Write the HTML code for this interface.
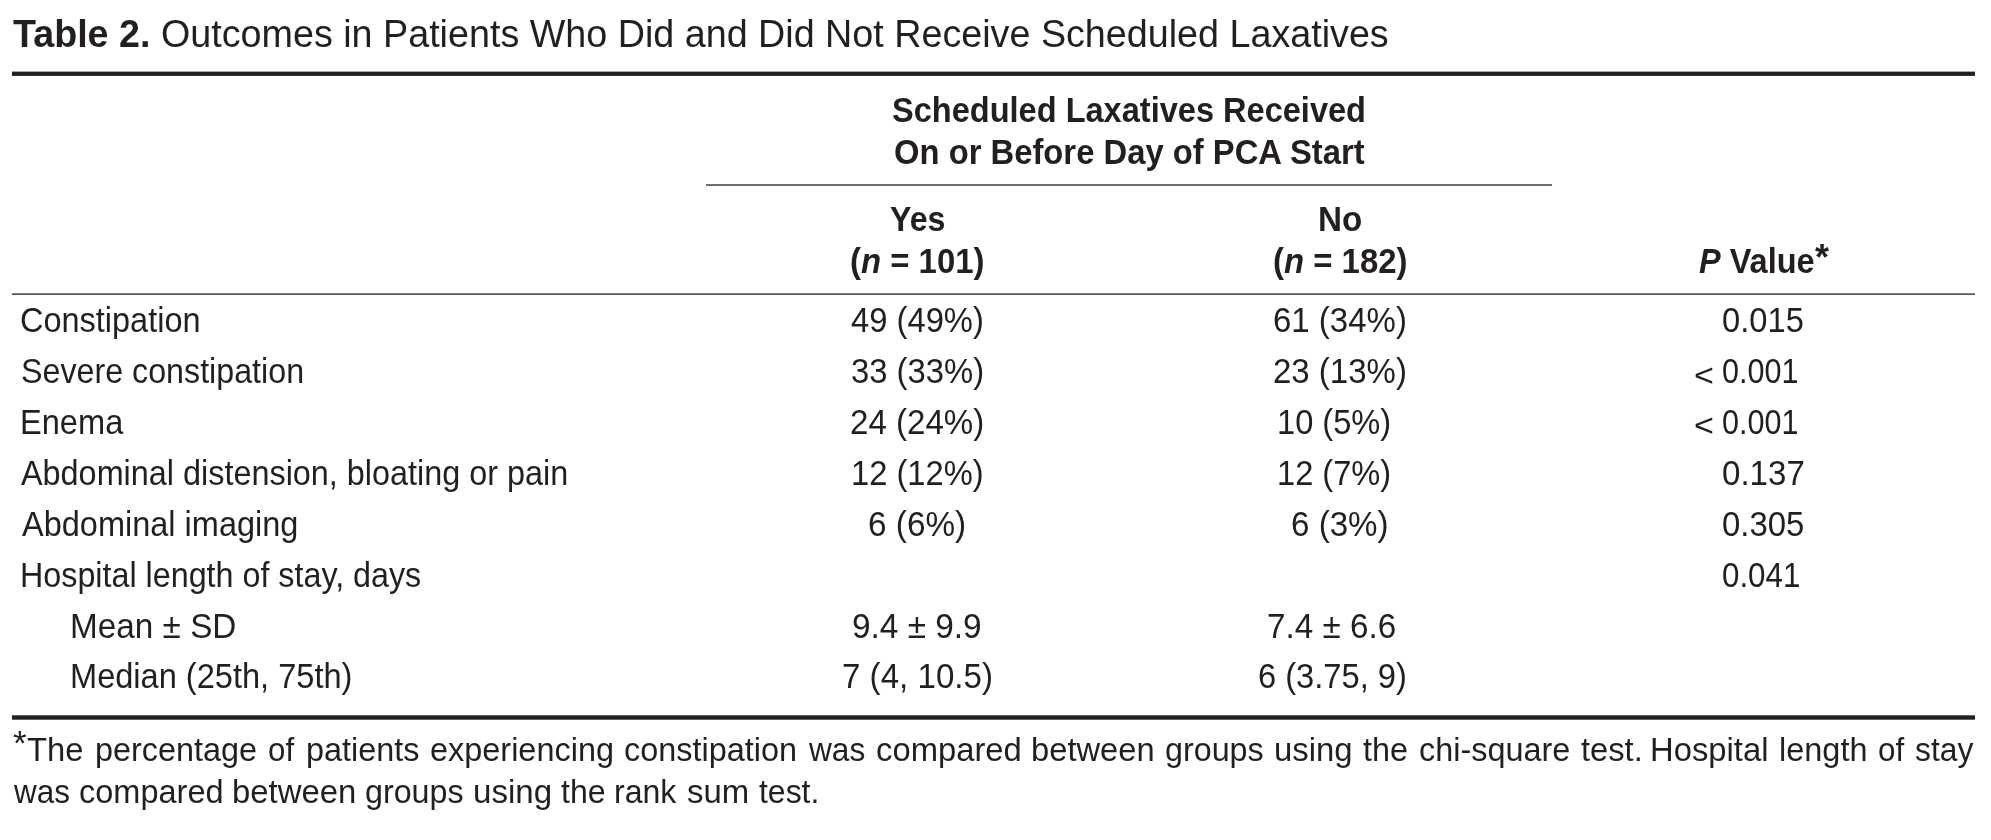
<!DOCTYPE html>
<html><head><meta charset="utf-8"><title>Table 2</title>
<style>
html,body{margin:0;padding:0;background:#fff;}
.wrap{position:absolute;left:0;top:0;width:1991px;height:840px;will-change:transform;}
body{width:1991px;height:840px;position:relative;overflow:hidden;}
.t{position:absolute;white-space:nowrap;font-family:'Liberation Sans', sans-serif;color:#231f20;}
</style></head><body><div class="wrap">
<svg width="1991" height="840" style="position:absolute;left:0;top:0">
<rect x="12" y="71.6" width="1963" height="4.3" fill="#231f20"/>
<rect x="706" y="184.35" width="846" height="1.3" fill="#231f20"/>
<rect x="12" y="293.45" width="1963" height="1.3" fill="#231f20"/>
<rect x="12" y="715.3" width="1963" height="4.4" fill="#231f20"/>
</svg>
<div class="t" style="left:12.50px;top:14.80px;font-size:38.0px;line-height:38.0px;font-weight:bold;transform-origin:0 31px;transform:scale(0.9911,1.0000)">Table 2.</div>
<div class="t" style="left:160.56px;top:14.80px;font-size:38.0px;line-height:38.0px;transform-origin:0 31px;transform:scale(0.9919,1.0000)">Outcomes in Patients Who Did and Did Not Receive Scheduled Laxatives</div>
<div class="t" style="left:892.03px;top:94.20px;font-size:33.5px;line-height:33.5px;font-weight:bold;transform-origin:0 27px;transform:scale(0.9716,1.0300)">Scheduled Laxatives Received</div>
<div class="t" style="left:893.78px;top:136.00px;font-size:33.5px;line-height:33.5px;font-weight:bold;transform-origin:0 27px;transform:scale(0.9786,1.0300)">On or Before Day of PCA Start</div>
<div class="t" style="left:889.78px;top:203.40px;font-size:33.5px;line-height:33.5px;font-weight:bold;transform-origin:0 27px;transform:scale(0.9596,1.0300)">Yes</div>
<div class="t" style="left:850.28px;top:245.20px;font-size:33.5px;line-height:33.5px;font-weight:bold;transform-origin:0 27px;transform:scale(0.9828,1.0300)">(<i>n</i> = 101)</div>
<div class="t" style="left:1318.27px;top:203.40px;font-size:33.5px;line-height:33.5px;font-weight:bold;transform-origin:0 27px;transform:scale(0.9927,1.0300)">No</div>
<div class="t" style="left:1273.28px;top:245.20px;font-size:33.5px;line-height:33.5px;font-weight:bold;transform-origin:0 27px;transform:scale(0.9828,1.0300)">(<i>n</i> = 182)</div>
<div class="t" style="left:1698.71px;top:244.70px;font-size:33.5px;line-height:33.5px;font-weight:bold;transform-origin:0 27px;transform:scale(0.9702,1.0500)"><i>P</i> Value</div>
<div class="t" style="left:20.20px;top:304.20px;font-size:33.5px;line-height:33.5px;transform-origin:0 27px;transform:scale(0.9695,1.0500)">Constipation</div>
<div class="t" style="left:20.56px;top:355.10px;font-size:33.5px;line-height:33.5px;transform-origin:0 27px;transform:scale(0.9621,1.0500)">Severe constipation</div>
<div class="t" style="left:19.92px;top:405.90px;font-size:33.5px;line-height:33.5px;transform-origin:0 27px;transform:scale(0.9729,1.0500)">Enema</div>
<div class="t" style="left:21.00px;top:456.80px;font-size:33.5px;line-height:33.5px;transform-origin:0 27px;transform:scale(0.9667,1.0500)">Abdominal distension, bloating or pain</div>
<div class="t" style="left:21.90px;top:507.60px;font-size:33.5px;line-height:33.5px;transform-origin:0 27px;transform:scale(0.9701,1.0500)">Abdominal imaging</div>
<div class="t" style="left:20.35px;top:558.50px;font-size:33.5px;line-height:33.5px;transform-origin:0 27px;transform:scale(0.9634,1.0500)">Hospital length of stay, days</div>
<div class="t" style="left:69.77px;top:609.60px;font-size:33.5px;line-height:33.5px;transform-origin:0 27px;transform:scale(0.9945,1.0500)">Mean ± SD</div>
<div class="t" style="left:69.83px;top:660.10px;font-size:33.5px;line-height:33.5px;transform-origin:0 27px;transform:scale(0.9722,1.0500)">Median (25th, 75th)</div>
<div class="t" style="left:851.07px;top:304.20px;font-size:33.5px;line-height:33.5px;transform-origin:0 27px;transform:scale(0.9774,1.0500)">49 (49%)</div>
<div class="t" style="left:851.28px;top:355.10px;font-size:33.5px;line-height:33.5px;transform-origin:0 27px;transform:scale(0.9796,1.0500)">33 (33%)</div>
<div class="t" style="left:850.17px;top:405.90px;font-size:33.5px;line-height:33.5px;transform-origin:0 27px;transform:scale(0.9879,1.0500)">24 (24%)</div>
<div class="t" style="left:851.36px;top:456.80px;font-size:33.5px;line-height:33.5px;transform-origin:0 27px;transform:scale(0.9752,1.0500)">12 (12%)</div>
<div class="t" style="left:868.46px;top:507.60px;font-size:33.5px;line-height:33.5px;transform-origin:0 27px;transform:scale(0.9953,1.0500)">6 (6%)</div>
<div class="t" style="left:852.31px;top:609.60px;font-size:33.5px;line-height:33.5px;transform-origin:0 27px;transform:scale(0.9961,1.0500)">9.4 ± 9.9</div>
<div class="t" style="left:841.67px;top:660.10px;font-size:33.5px;line-height:33.5px;transform-origin:0 27px;transform:scale(0.9886,1.0500)">7 (4, 10.5)</div>
<div class="t" style="left:1273.08px;top:304.20px;font-size:33.5px;line-height:33.5px;transform-origin:0 27px;transform:scale(0.9848,1.0500)">61 (34%)</div>
<div class="t" style="left:1273.08px;top:355.10px;font-size:33.5px;line-height:33.5px;transform-origin:0 27px;transform:scale(0.9848,1.0500)">23 (13%)</div>
<div class="t" style="left:1277.07px;top:405.90px;font-size:33.5px;line-height:33.5px;transform-origin:0 27px;transform:scale(0.9738,1.0500)">10 (5%)</div>
<div class="t" style="left:1277.07px;top:456.80px;font-size:33.5px;line-height:33.5px;transform-origin:0 27px;transform:scale(0.9738,1.0500)">12 (7%)</div>
<div class="t" style="left:1291.17px;top:507.60px;font-size:33.5px;line-height:33.5px;transform-origin:0 27px;transform:scale(0.9889,1.0500)">6 (3%)</div>
<div class="t" style="left:1267.26px;top:609.60px;font-size:33.5px;line-height:33.5px;transform-origin:0 27px;transform:scale(0.9921,1.0500)">7.4 ± 6.6</div>
<div class="t" style="left:1257.79px;top:660.10px;font-size:33.5px;line-height:33.5px;transform-origin:0 27px;transform:scale(0.9752,1.0500)">6 (3.75, 9)</div>
<div class="t" style="left:1722.38px;top:304.20px;font-size:33.5px;line-height:33.5px;transform-origin:0 27px;transform:scale(0.9760,1.0500)">0.015</div>
<div class="t" style="left:1722.46px;top:355.10px;font-size:33.5px;line-height:33.5px;transform-origin:0 27px;transform:scale(0.9123,1.0500)">0.001</div>
<div class="t" style="left:1722.46px;top:405.90px;font-size:33.5px;line-height:33.5px;transform-origin:0 27px;transform:scale(0.9123,1.0500)">0.001</div>
<div class="t" style="left:1721.97px;top:456.80px;font-size:33.5px;line-height:33.5px;transform-origin:0 27px;transform:scale(0.9877,1.0500)">0.137</div>
<div class="t" style="left:1722.17px;top:507.60px;font-size:33.5px;line-height:33.5px;transform-origin:0 27px;transform:scale(0.9822,1.0500)">0.305</div>
<div class="t" style="left:1722.23px;top:558.50px;font-size:33.5px;line-height:33.5px;transform-origin:0 27px;transform:scale(0.9346,1.0500)">0.041</div>
<div class="t" style="left:27.34px;top:733.70px;font-size:32.5px;line-height:32.5px;transform-origin:0 27px;transform:scale(1.0084,1.0500)">The</div>
<div class="t" style="left:95.41px;top:733.70px;font-size:32.5px;line-height:32.5px;transform-origin:0 27px;transform:scale(0.9959,1.0500)">percentage</div>
<div class="t" style="left:267.80px;top:733.70px;font-size:32.5px;line-height:32.5px;transform-origin:0 27px;transform:scale(0.9615,1.0500)">of</div>
<div class="t" style="left:306.11px;top:733.70px;font-size:32.5px;line-height:32.5px;transform-origin:0 27px;transform:scale(0.9968,1.0500)">patients</div>
<div class="t" style="left:430.35px;top:733.70px;font-size:32.5px;line-height:32.5px;transform-origin:0 27px;transform:scale(0.9983,1.0500)">experiencing</div>
<div class="t" style="left:623.85px;top:733.70px;font-size:32.5px;line-height:32.5px;transform-origin:0 27px;transform:scale(0.9976,1.0500)">constipation</div>
<div class="t" style="left:808.80px;top:733.70px;font-size:32.5px;line-height:32.5px;transform-origin:0 27px;transform:scale(0.9727,1.0500)">was</div>
<div class="t" style="left:875.84px;top:733.70px;font-size:32.5px;line-height:32.5px;transform-origin:0 27px;transform:scale(1.0088,1.0500)">compared</div>
<div class="t" style="left:1030.69px;top:733.70px;font-size:32.5px;line-height:32.5px;transform-origin:0 27px;transform:scale(1.0063,1.0500)">between</div>
<div class="t" style="left:1164.86px;top:733.70px;font-size:32.5px;line-height:32.5px;transform-origin:0 27px;transform:scale(0.9928,1.0500)">groups</div>
<div class="t" style="left:1274.48px;top:733.70px;font-size:32.5px;line-height:32.5px;transform-origin:0 27px;transform:scale(1.0109,1.0500)">using</div>
<div class="t" style="left:1363.40px;top:733.70px;font-size:32.5px;line-height:32.5px;transform-origin:0 27px;transform:scale(0.9965,1.0500)">the</div>
<div class="t" style="left:1418.85px;top:733.70px;font-size:32.5px;line-height:32.5px;transform-origin:0 27px;transform:scale(0.9973,1.0500)">chi-square</div>
<div class="t" style="left:1581.20px;top:733.70px;font-size:32.5px;line-height:32.5px;transform-origin:0 27px;transform:scale(1.0052,1.0500)">test.</div>
<div class="t" style="left:1650.43px;top:733.70px;font-size:32.5px;line-height:32.5px;transform-origin:0 27px;transform:scale(1.0089,1.0500)">Hospital</div>
<div class="t" style="left:1778.55px;top:733.70px;font-size:32.5px;line-height:32.5px;transform-origin:0 27px;transform:scale(0.9994,1.0500)">length</div>
<div class="t" style="left:1877.99px;top:733.70px;font-size:32.5px;line-height:32.5px;transform-origin:0 27px;transform:scale(0.9654,1.0500)">of</div>
<div class="t" style="left:1915.32px;top:733.70px;font-size:32.5px;line-height:32.5px;transform-origin:0 27px;transform:scale(0.9778,1.0500)">stay</div>
<div class="t" style="left:13.70px;top:775.70px;font-size:32.5px;line-height:32.5px;transform-origin:0 27px;transform:scale(0.9674,1.0500)">was</div>
<div class="t" style="left:78.95px;top:775.70px;font-size:32.5px;line-height:32.5px;transform-origin:0 27px;transform:scale(1.0004,1.0500)">compared</div>
<div class="t" style="left:232.18px;top:775.70px;font-size:32.5px;line-height:32.5px;transform-origin:0 27px;transform:scale(1.0122,1.0500)">between</div>
<div class="t" style="left:364.76px;top:775.70px;font-size:32.5px;line-height:32.5px;transform-origin:0 27px;transform:scale(0.9918,1.0500)">groups</div>
<div class="t" style="left:472.86px;top:775.70px;font-size:32.5px;line-height:32.5px;transform-origin:0 27px;transform:scale(1.0190,1.0500)">using</div>
<div class="t" style="left:560.91px;top:775.70px;font-size:32.5px;line-height:32.5px;transform-origin:0 27px;transform:scale(0.9896,1.0500)">the</div>
<div class="t" style="left:613.98px;top:775.70px;font-size:32.5px;line-height:32.5px;transform-origin:0 27px;transform:scale(0.9869,1.0500)">rank</div>
<div class="t" style="left:686.99px;top:775.70px;font-size:32.5px;line-height:32.5px;transform-origin:0 27px;transform:scale(1.0129,1.0500)">sum</div>
<div class="t" style="left:759.21px;top:775.70px;font-size:32.5px;line-height:32.5px;transform-origin:0 27px;transform:scale(0.9828,1.0500)">test.</div>
<div class="t" style="left:1814.68px;top:238.09px;font-size:40px;line-height:40px;transform-origin:0 0;transform:scale(0.8984,0.9288);font-weight:bold">*</div>
<div class="t" style="left:13.24px;top:725.21px;font-size:40px;line-height:40px;transform-origin:0 0;transform:scale(0.8772,0.8714)">*</div>
<div class="t" style="left:1693.50px;top:359.54px;font-size:40px;line-height:40px;transform-origin:0 0;transform:scale(0.8513,0.7654)">&lt;</div>
<div class="t" style="left:1693.50px;top:410.34px;font-size:40px;line-height:40px;transform-origin:0 0;transform:scale(0.8513,0.7654)">&lt;</div>
</div></body></html>
